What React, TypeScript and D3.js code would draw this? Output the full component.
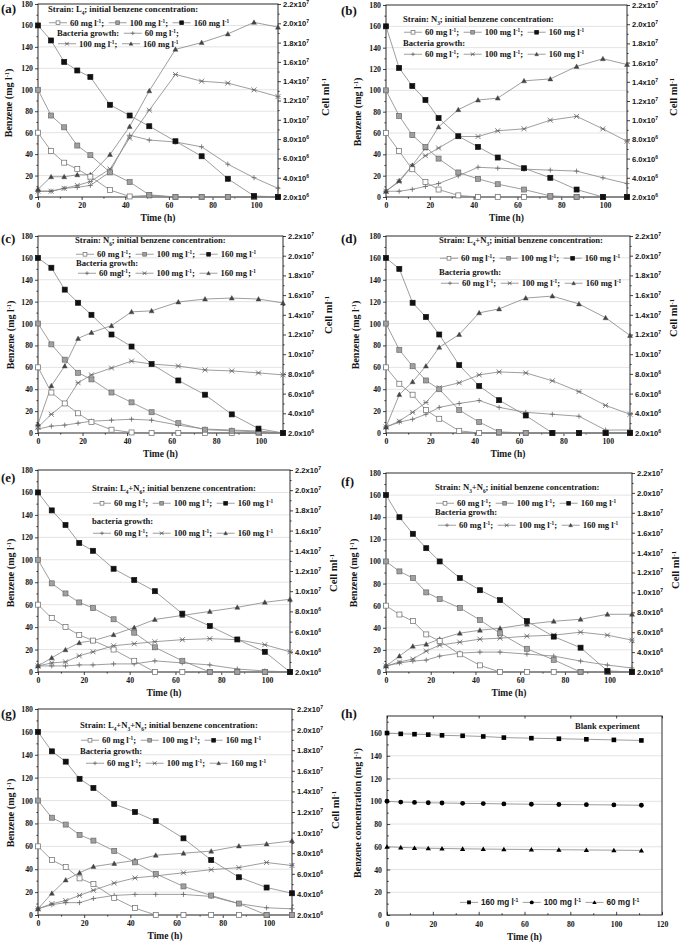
import React, { useEffect, useRef } from "react";
import * as d3 from "d3";

// sampling times (h)
const hours = [0, 6, 12, 18, 24, 33, 42, 51, 63, 75, 87, 99, 110];
const blankHours = [0, 6, 12, 18, 24, 33, 42, 51, 63, 75, 87, 99, 111];

const benzeneTicks = [0, 20, 40, 60, 80, 100, 120, 140, 160, 180];
const cellTicks = [2, 4, 6, 8, 10, 12, 14, 16, 18, 20, 22]; // x10^6 cells/ml
const timeTicks = [0, 20, 40, 60, 80, 100];
const blankTimeTicks = [0, 20, 40, 60, 80, 100, 120];
const blankTicks = [0, 20, 40, 60, 80, 100, 120, 140, 160];

// benzene (mg/l) and cells (x10^6 per ml), one set per strain
const aBenzene60 = [60, 43, 32, 26, 19, 6.5, 0.5, 1.5, 0, 0, 0, 0, 0];
const aBenzene100 = [100, 76, 65, 48, 39, 23, 14, 2, 0, 0, 0, 0, 0];
const aBenzene160 = [160, 146, 126, 118, 112, 86, 76, 66, 52, 38, 17, 1, 0];
const aCells60 = [2.6, 2.6, 2.9, 3.0, 3.2, 4.6, 8.4, 7.9, 7.7, 7.2, 5.4, 4.0, 2.9];
const aCells100 = [2.6, 2.6, 2.9, 3.2, 3.6, 4.9, 8.1, 11.0, 14.7, 14.0, 13.8, 13.1, 12.4];
const aCells160 = [2.8, 4.1, 4.1, 4.3, 4.3, 6.4, 9.3, 13.0, 17.3, 18.0, 18.9, 20.1, 19.6];

const bBenzene60 = [60, 43, 26, 14, 7, 1.5, 0, 0, 0, 0, 0, 0, 0];
const bBenzene100 = [100, 76, 58, 47, 36, 23, 17, 12, 7, 1, 0, 0, 0];
const bBenzene160 = [160, 121, 104, 91, 74, 57, 47, 37, 27, 18, 7, 0, 0];
const bCells60 = [2.6, 2.6, 2.8, 3.1, 3.4, 4.2, 5.1, 5.0, 4.9, 4.8, 4.7, 4.0, 3.4];
const bCells100 = [2.6, 3.6, 5.2, 6.3, 7.1, 8.3, 8.3, 8.9, 9.1, 10.0, 10.4, 9.1, 7.8];
const bCells160 = [2.6, 3.7, 5.3, 7.1, 9.3, 11.1, 12.1, 12.3, 14.1, 14.3, 15.6, 16.4, 15.8];

const cBenzene60 = [60, 37, 27, 18, 10, 3, 0.5, 0, 0, 0, 0, 0, 0];
const cBenzene100 = [100, 81, 67, 55, 49, 37, 28, 19, 9, 3, 2, 1, 0];
const cBenzene160 = [160, 151, 131, 119, 108, 90, 79, 63, 48, 35, 17, 4, 0];
const cCells60 = [2.4, 2.7, 2.8, 3.0, 3.2, 3.3, 3.4, 3.3, 2.8, 2.4, 2.3, 2.2, 2.0];
const cCells100 = [2.6, 3.9, 5.0, 7.1, 7.9, 8.6, 9.3, 9.0, 8.8, 8.4, 8.3, 8.1, 7.9];
const cCells160 = [2.9, 6.8, 8.8, 11.6, 12.2, 12.9, 14.3, 14.4, 15.3, 15.6, 15.7, 15.6, 15.2];

const dBenzene60 = [60, 45, 35, 21, 13, 2, 0, 0, 0, 0, 0, 0, 0];
const dBenzene100 = [100, 76, 61, 48, 40, 21, 10, 1, 0, 0, 0, 0, 0];
const dBenzene160 = [160, 150, 119, 106, 90, 62, 43, 30, 16, 0, 0, 0, 0];
const dCells60 = [2.6, 3.1, 3.4, 3.9, 4.6, 5.0, 5.3, 4.6, 4.1, 3.9, 3.7, 2.3, 2.3];
const dCells100 = [2.6, 3.2, 4.1, 5.1, 6.6, 7.1, 7.9, 8.2, 8.1, 7.3, 6.2, 4.8, 3.9];
const dCells160 = [2.6, 5.9, 7.2, 8.8, 10.7, 12.0, 14.2, 14.6, 15.7, 15.9, 15.1, 13.7, 11.9];

const eBenzene60 = [60, 48, 40, 33, 28, 20, 10, 0, 0, 0, 0, 0, 0];
const eBenzene100 = [100, 79, 70, 62, 57, 47, 35, 22, 10, 0, 0, 0, 0];
const eBenzene160 = [160, 144, 131, 115, 108, 92, 82, 72, 52, 41, 29, 18, 0];
const eCells60 = [2.6, 2.6, 2.6, 2.7, 2.7, 2.8, 2.8, 3.1, 2.9, 2.7, 2.3, 2.1, 2.0];
const eCells100 = [2.6, 2.9, 3.0, 3.6, 4.0, 4.6, 4.8, 5.0, 5.2, 5.3, 5.2, 4.7, 4.0];
const eCells160 = [2.6, 3.4, 4.2, 4.9, 5.1, 5.7, 6.4, 7.2, 7.6, 8.0, 8.4, 8.9, 9.2];

const fBenzene60 = [60, 52, 46, 34, 28, 16, 6, 0, 0, 0, 0, 0, 0];
const fBenzene100 = [100, 91, 85, 72, 66, 58, 47, 35, 21, 11, 0, 0, 0];
const fBenzene160 = [160, 140, 125, 112, 100, 85, 74, 65, 46, 32, 22, 1, 0];
const fCells60 = [2.6, 2.9, 3.1, 3.2, 3.6, 3.9, 4.0, 4.0, 3.8, 3.6, 3.1, 2.7, 2.4];
const fCells100 = [2.6, 3.0, 3.3, 4.1, 4.7, 5.0, 5.3, 5.4, 5.6, 5.7, 6.0, 5.7, 5.2];
const fCells160 = [2.6, 3.6, 4.6, 4.8, 5.3, 5.9, 6.2, 6.4, 6.8, 7.1, 7.3, 7.8, 7.8];

const gBenzene60 = [60, 48, 42, 32, 27, 15, 6, 0, 0, 0, 0, 0, 0];
const gBenzene100 = [100, 85, 79, 70, 65, 56, 46, 36, 25, 17, 10, 0, 0];
const gBenzene160 = [160, 143, 134, 119, 111, 97, 90, 82, 67, 48, 33, 24, 19];
const gCells60 = [2.6, 3.0, 3.2, 3.2, 3.6, 3.9, 4.0, 4.0, 4.0, 3.8, 3.1, 2.7, 2.6];
const gCells100 = [2.6, 3.1, 3.4, 3.9, 4.4, 5.1, 5.6, 5.8, 6.1, 6.4, 6.6, 7.1, 6.8];
const gCells160 = [2.6, 4.1, 5.4, 6.1, 6.7, 7.0, 7.3, 7.8, 8.0, 8.2, 8.7, 8.9, 9.2];

// blank experiment (no bacteria)
const blank160 = [160, 159.3, 159, 158.6, 158, 157.6, 157, 156, 155.5, 155, 154.5, 154, 153.5];
const blank100 = [100, 99.3, 99, 98.7, 98.5, 98.2, 98, 97.7, 97.4, 97.2, 97, 96.8, 96.5];
const blank60 = [60, 59.5, 59, 58.7, 58.5, 58.2, 58, 57.8, 57.6, 57.4, 57.2, 57, 56.8];

const SERIF = "'Liberation Serif','Times New Roman',serif";
const SANS = "'Liberation Sans',Arial,sans-serif";
const LINE = "#858585";
const GRID = "#e3e3e3";
const INK = "#151515";
const LEG = 8.6;

type Seg = [string, string?];
type Tok = { sym: string } | { segs: Seg[] };

const unit = (n: string, tail: string, gap = " "): Seg[] => [[`${n} mg${gap}l`], ["-1", "sup"], [tail]];

const benzLegend: Tok[] = [
  { sym: "open" }, { segs: unit("60", ";") },
  { sym: "gray" }, { segs: unit("100", ";") },
  { sym: "black" }, { segs: unit("160", "") },
];
const growthLegend = (gap = " "): Tok[] => [
  { sym: "plus" }, { segs: unit("60", ";", gap) },
  { sym: "star" }, { segs: unit("100", ";") },
  { sym: "tri" }, { segs: unit("160", "") },
];
const strain = (parts: Seg[]): Tok[] => [{ segs: [["Strain: "], ...parts, ["; initial benzene concentration:"]] }];
const growthTitle = (s: string): Tok[] => [{ segs: [[s]] }];

const panels = [
  {
    tag: "(a)", tagPos: [1, 13], left: 38, right: 278, top: 4, bottom: 197,
    benzene: [aBenzene60, aBenzene100, aBenzene160], cells: [aCells60, aCells100, aCells160],
    legend: [
      strain([["L"], ["4", "sub"]]),
      benzLegend,
      [{ segs: [["Bacteria growth:"]] }, { sym: "plus" }, { segs: unit("60", ";") }],
      [{ sym: "star" }, { segs: unit("100", ";") }, { sym: "tri" }, { segs: unit("160", "") }],
    ] as Tok[][],
    legendX: [48, 48, 57, 57], legendY: [12, 25.5, 36, 46.5],
    benzLabel: [8, 103], cellLabel: [325, 97],
  },
  {
    tag: "(b)", tagPos: [341, 15], left: 386, right: 627, top: 5, bottom: 197,
    benzene: [bBenzene60, bBenzene100, bBenzene160], cells: [bCells60, bCells100, bCells160],
    legend: [strain([["N"], ["3", "sub"]]), benzLegend, growthTitle("Bacteria growth:"), growthLegend()],
    legendX: [403, 403, 403, 403], legendY: [22, 35, 46, 57],
    benzLabel: [357, 112], cellLabel: [673, 97],
  },
  {
    tag: "(c)", tagPos: [1, 243], left: 38, right: 283, top: 236, bottom: 433,
    benzene: [cBenzene60, cBenzene100, cBenzene160], cells: [cCells60, cCells100, cCells160],
    legend: [strain([["N"], ["6", "sub"]]), benzLegend, growthTitle("Bacteria growth:"), growthLegend("")],
    legendX: [75, 75, 76, 77], legendY: [243, 257, 266, 276],
    benzLabel: [10, 335], cellLabel: [328, 315],
  },
  {
    tag: "(d)", tagPos: [341, 243], left: 386, right: 630, top: 236, bottom: 433,
    benzene: [dBenzene60, dBenzene100, dBenzene160], cells: [dCells60, dCells100, dCells160],
    legend: [strain([["L"], ["4", "sub"], ["+N"], ["3", "sub"]]), benzLegend, growthTitle("Bacteria growth:"), growthLegend()],
    legendX: [439, 439, 439, 440], legendY: [243, 261, 275, 286],
    benzLabel: [355, 335], cellLabel: [673, 318],
  },
  {
    tag: "(e)", tagPos: [1, 482], left: 38, right: 290, top: 470, bottom: 672,
    benzene: [eBenzene60, eBenzene100, eBenzene160], cells: [eCells60, eCells100, eCells160],
    legend: [strain([["L"], ["4", "sub"], ["+N"], ["6", "sub"]]), benzLegend, growthTitle("bacteria growth:"), growthLegend()],
    legendX: [92, 92, 92, 92], legendY: [491, 506, 524, 536],
    benzLabel: [10, 573], cellLabel: [333, 573],
  },
  {
    tag: "(f)", tagPos: [341, 486], left: 386, right: 632, top: 473, bottom: 672,
    benzene: [fBenzene60, fBenzene100, fBenzene160], cells: [fCells60, fCells100, fCells160],
    legend: [strain([["N"], ["3", "sub"], ["+N"], ["6", "sub"]]), benzLegend, growthTitle("Bacteria growth:"), growthLegend()],
    legendX: [435, 435, 435, 437], legendY: [490, 506, 515, 528],
    benzLabel: [353, 573], cellLabel: [675, 570],
  },
  {
    tag: "(g)", tagPos: [1, 718], left: 38, right: 292, top: 709, bottom: 915,
    benzene: [gBenzene60, gBenzene100, gBenzene160], cells: [gCells60, gCells100, gCells160],
    legend: [strain([["L"], ["4", "sub"], ["+N"], ["3", "sub"], ["+N"], ["6", "sub"]]), benzLegend, growthTitle("Bacteria growth:"), growthLegend()],
    legendX: [80, 80, 80, 85], legendY: [728, 743, 754, 766],
    benzLabel: [10, 813], cellLabel: [335, 810],
  },
];

type Sel = d3.Selection<SVGGElement, unknown, null, undefined>;

function marker(g: Sel, kind: string, cx: number, cy: number, s = 5) {
  const h = s / 2;
  if (kind === "open" || kind === "gray" || kind === "black") {
    g.append("rect")
      .attr("x", cx - h).attr("y", cy - h).attr("width", s).attr("height", s)
      .attr("fill", kind === "open" ? "#fff" : kind === "gray" ? "#a0a0a0" : "#111")
      .attr("stroke", kind === "black" ? "#111" : "#6a6a6a").attr("stroke-width", 0.7);
  } else if (kind === "plus") {
    g.append("path").attr("d", `M${cx - h},${cy}H${cx + h}M${cx},${cy - h}V${cy + h}`)
      .attr("stroke", "#666").attr("stroke-width", 0.8).attr("fill", "none");
  } else if (kind === "star") {
    g.append("path")
      .attr("d", `M${cx - h},${cy - h}L${cx + h},${cy + h}M${cx - h},${cy + h}L${cx + h},${cy - h}M${cx - h},${cy}H${cx + h}`)
      .attr("stroke", "#666").attr("stroke-width", 0.8).attr("fill", "none");
  } else if (kind === "tri") {
    g.append("path").attr("d", `M${cx},${cy - h}L${cx + h},${cy + h * 0.8}L${cx - h},${cy + h * 0.8}Z`)
      .attr("fill", "#444").attr("stroke", "#444").attr("stroke-width", 0.4);
  } else if (kind === "sq") {
    g.append("rect").attr("x", cx - h).attr("y", cy - h).attr("width", s).attr("height", s).attr("fill", "#000");
  } else if (kind === "dot") {
    g.append("circle").attr("cx", cx).attr("cy", cy).attr("r", h * 1.05).attr("fill", "#000");
  } else if (kind === "utri") {
    g.append("path").attr("d", `M${cx},${cy - h * 1.1}L${cx + h * 1.15},${cy + h * 0.9}L${cx - h * 1.15},${cy + h * 0.9}Z`).attr("fill", "#000");
  }
}

function rich(g: Sel, x: number, y: number, segs: Seg[], size: number, family = SERIF, anchor = "start") {
  const t = g.append("text").attr("x", x).attr("y", y)
    .attr("font-family", family).attr("font-size", size).attr("font-weight", "bold")
    .attr("text-anchor", anchor).attr("fill", INK);
  segs.forEach(([s, k]) => {
    const ts = t.append("tspan").text(s);
    if (k) ts.attr("font-size", size * 0.62).attr("baseline-shift", k === "sup" ? "super" : "sub");
  });
  return t;
}

function legendLine(g: Sel, x: number, y: number, toks: Tok[], size: number, family = SERIF) {
  let cx = x;
  toks.forEach((tok) => {
    if ("sym" in tok) {
      const ly = y - size * 0.32;
      g.append("line").attr("x1", cx + 1).attr("x2", cx + 19).attr("y1", ly).attr("y2", ly)
        .attr("stroke", LINE).attr("stroke-width", 0.8);
      marker(g, tok.sym, cx + 10, ly, 3.8);
      cx += 22;
    } else {
      const t = rich(g, cx, y, tok.segs, size, family);
      cx += (t.node() as SVGTextElement).getComputedTextLength() + size * 0.42;
    }
  });
}

function styleAxis(sel: Sel, family: string, size: number) {
  sel.select(".domain").remove();
  sel.selectAll("line").attr("stroke", INK).attr("stroke-width", 0.8);
  sel.selectAll("text").attr("font-family", family).attr("font-size", size)
    .attr("font-weight", "bold").attr("fill", INK);
}

function drawPanel(root: Sel, p: (typeof panels)[number]) {
  const g = root.append("g");
  const x = d3.scaleLinear().domain([0, 110]).range([p.left, p.right]);
  const y = d3.scaleLinear().domain([0, 180]).range([p.bottom, p.top]);
  const yc = d3.scaleLinear().domain([2, 22]).range([p.bottom, p.top]);

  g.append("g").selectAll("line").data(benzeneTicks.filter((t) => t > 0 && t < 180)).join("line")
    .attr("x1", p.left).attr("x2", p.right).attr("y1", (d) => y(d)).attr("y2", (d) => y(d))
    .attr("stroke", GRID).attr("stroke-width", 1);

  // minor ticks
  const minorT = timeTicks.map((t) => t + 10);
  const minorB = benzeneTicks.slice(0, -1).map((t) => t + 10);
  const minorC = cellTicks.slice(0, -1).map((t) => t + 1);
  g.append("g").attr("transform", `translate(0,${p.bottom})`)
    .call(d3.axisBottom(x).tickValues(minorT).tickSize(1.6).tickFormat(() => "")).call((s) => styleAxis(s, SERIF, 7.5));
  g.append("g").attr("transform", `translate(${p.left},0)`)
    .call(d3.axisLeft(y).tickValues(minorB).tickSize(1.6).tickFormat(() => "")).call((s) => styleAxis(s, SERIF, 7.5));
  g.append("g").attr("transform", `translate(${p.right},0)`)
    .call(d3.axisRight(yc).tickValues(minorC).tickSize(1.6).tickFormat(() => "")).call((s) => styleAxis(s, SERIF, 7.5));

  g.append("g").attr("transform", `translate(0,${p.bottom})`)
    .call(d3.axisBottom(x).tickValues(timeTicks).tickSize(3).tickPadding(2).tickFormat(d3.format("d")))
    .call((s) => styleAxis(s, SERIF, 7.8));
  g.append("g").attr("transform", `translate(${p.left},0)`)
    .call(d3.axisLeft(y).tickValues(benzeneTicks).tickSize(3).tickPadding(2).tickFormat(d3.format("d")))
    .call((s) => styleAxis(s, SERIF, 7.8));
  const ra = g.append("g").attr("transform", `translate(${p.right},0)`)
    .call(d3.axisRight(yc).tickValues(cellTicks).tickSize(3).tickPadding(2))
    .call((s) => styleAxis(s, SANS, 7.6));
  ra.selectAll<SVGTextElement, number>("text").each(function (d) {
    const t = d3.select(this).text(null);
    const exp = d >= 10 ? 7 : 6;
    const m = d >= 10 ? d / 10 : d;
    t.append("tspan").text(`${m.toFixed(1)}x10`);
    t.append("tspan").text(String(exp)).attr("font-size", 5).attr("baseline-shift", "super");
  });

  g.append("rect").attr("x", p.left).attr("y", p.top).attr("width", p.right - p.left).attr("height", p.bottom - p.top)
    .attr("fill", "none").attr("stroke", INK).attr("stroke-width", 0.9);

  const benzKinds = ["open", "gray", "black"];
  const cellKinds = ["plus", "star", "tri"];
  const lineB = d3.line<number>().x((_, i) => x(hours[i])).y((v) => y(v));
  const lineC = d3.line<number>().x((_, i) => x(hours[i])).y((v) => yc(v));
  const series = g.append("g");
  p.cells.forEach((arr) => series.append("path").attr("d", lineC(arr)).attr("fill", "none").attr("stroke", LINE).attr("stroke-width", 0.8));
  p.benzene.forEach((arr) => series.append("path").attr("d", lineB(arr)).attr("fill", "none").attr("stroke", LINE).attr("stroke-width", 0.8));
  p.cells.forEach((arr, k) => arr.forEach((v, i) => marker(series, cellKinds[k], x(hours[i]), yc(v))));
  p.benzene.forEach((arr, k) => arr.forEach((v, i) => marker(series, benzKinds[k], x(hours[i]), y(v))));

  p.legend.forEach((toks, i) => legendLine(g, p.legendX[i], p.legendY[i], toks, LEG));

  rich(g, p.tagPos[0], p.tagPos[1], [[p.tag]], 13);
  rich(g, (p.left + p.right) / 2, p.bottom + 24, [["Time (h)"]], 9.5, SERIF, "middle");
  rich(g, 0, 0, [["Benzene (mg l"], ["-1", "sup"], [")"]], 10, SERIF, "middle")
    .attr("transform", `translate(${p.benzLabel[0] + 3.5},${p.benzLabel[1]}) rotate(-90)`);
  rich(g, 0, 0, [["Cell ml"], ["-1", "sup"]], 10.5, SERIF, "middle")
    .attr("transform", `translate(${p.cellLabel[0] + 3.5},${p.cellLabel[1]}) rotate(-90)`);
}

function drawBlank(root: Sel) {
  const p = { left: 387, right: 662, top: 716, bottom: 915 };
  const g = root.append("g");
  const x = d3.scaleLinear().domain([0, 120]).range([p.left, p.right]);
  const y = d3.scaleLinear().domain([0, 175]).range([p.bottom, p.top]);

  g.append("g").selectAll("line").data(blankTicks.filter((t) => t > 0)).join("line")
    .attr("x1", p.left).attr("x2", p.right).attr("y1", (d) => y(d)).attr("y2", (d) => y(d))
    .attr("stroke", GRID).attr("stroke-width", 1);

  // ticks point inward on this panel
  const minorT = blankTimeTicks.slice(0, -1).map((t) => t + 10);
  const minorB = blankTicks.map((t) => t + 10);
  g.append("g").attr("transform", `translate(0,${p.bottom})`)
    .call(d3.axisTop(x).tickValues(minorT).tickSize(1.8).tickFormat(() => "")).call((s) => styleAxis(s, SERIF, 7.5));
  g.append("g").attr("transform", `translate(${p.left},0)`)
    .call(d3.axisRight(y).tickValues(minorB).tickSize(1.8).tickFormat(() => "")).call((s) => styleAxis(s, SERIF, 7.5));
  g.append("g").attr("transform", `translate(0,${p.bottom})`)
    .call(d3.axisTop(x).tickValues(blankTimeTicks).tickSize(3.2).tickFormat(() => ""))
    .call((s) => styleAxis(s, SERIF, 7.8));
  g.append("g").attr("transform", `translate(${p.left},0)`)
    .call(d3.axisRight(y).tickValues(blankTicks).tickSize(3.2).tickFormat(() => ""))
    .call((s) => styleAxis(s, SERIF, 7.8));
  g.append("g").attr("transform", `translate(0,${p.bottom})`)
    .call(d3.axisBottom(x).tickValues(blankTimeTicks).tickSize(0).tickPadding(6).tickFormat(d3.format("d")))
    .call((s) => styleAxis(s, SERIF, 7.8));
  g.append("g").attr("transform", `translate(${p.left},0)`)
    .call(d3.axisLeft(y).tickValues(blankTicks).tickSize(0).tickPadding(5).tickFormat(d3.format("d")))
    .call((s) => styleAxis(s, SERIF, 7.8));
  g.append("g").attr("transform", `translate(0,${p.top})`)
    .call(d3.axisBottom(x).tickValues(blankTimeTicks).tickSize(2.5).tickFormat(() => ""))
    .call((s) => styleAxis(s, SERIF, 7.5));

  g.append("rect").attr("x", p.left).attr("y", p.top).attr("width", p.right - p.left).attr("height", p.bottom - p.top)
    .attr("fill", "none").attr("stroke", INK).attr("stroke-width", 0.9);

  const line = d3.line<number>().x((_, i) => x(blankHours[i])).y((v) => y(v));
  const sets: [number[], string][] = [[blank160, "sq"], [blank100, "dot"], [blank60, "utri"]];
  sets.forEach(([arr]) => g.append("path").attr("d", line(arr)).attr("fill", "none").attr("stroke", LINE).attr("stroke-width", 0.8));
  sets.forEach(([arr, k]) => arr.forEach((v, i) => marker(g, k, x(blankHours[i]), y(v), 4.6)));

  rich(g, 575, 729, [["Blank experiment"]], 8.5);
  legendLine(g, 459, 905, [
    { sym: "sq" }, { segs: unit("160", "") },
    { sym: "dot" }, { segs: unit("100", "") },
    { sym: "utri" }, { segs: unit("60", "") },
  ], 8.2, SANS);

  rich(g, 341, 718, [["(h)"]], 13);
  rich(g, (p.left + p.right) / 2, p.bottom + 25, [["Time (h)"]], 9.5, SERIF, "middle");
  rich(g, 0, 0, [["Benzene concentration (mg l"], ["-1", "sup"], [")"]], 10, SERIF, "middle")
    .attr("transform", `translate(${357 + 3.5},813) rotate(-90)`);
}

export default function App() {
  const ref = useRef<SVGSVGElement>(null);
  useEffect(() => {
    const svg = d3.select(ref.current);
    svg.selectAll("*").remove();
    const root = svg.append("g") as unknown as Sel;
    panels.forEach((p) => drawPanel(root, p));
    drawBlank(root);
  }, []);
  return (
    <svg
      ref={ref}
      width={685}
      height={945}
      style={{ position: "absolute", left: 0, top: 0, background: "#fff" }}
    />
  );
}
